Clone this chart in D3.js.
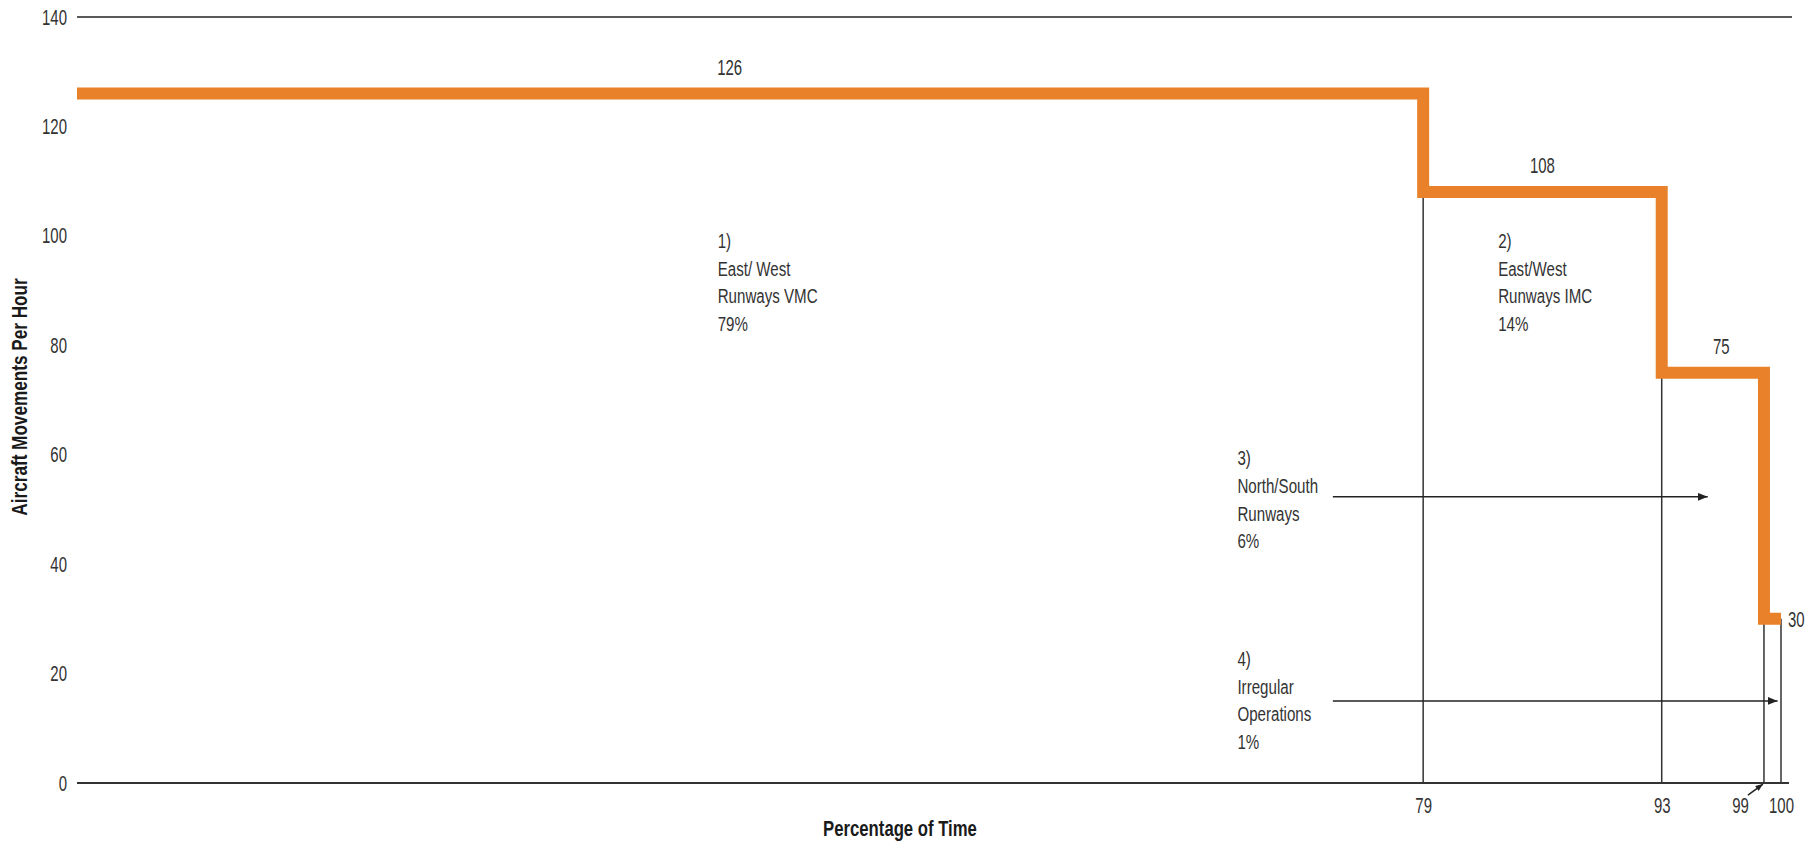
<!DOCTYPE html>
<html>
<head>
<meta charset="utf-8">
<script src="https://cdn.jsdelivr.net/npm/d3@7"></script>
<style>
  html, body { margin: 0; padding: 0; background: #fff; }
  text { font-family: "Liberation Sans", Arial, sans-serif; fill: #333; }
  .title { font-weight: bold; fill: #1a1a1a; }
</style>
</head>
<body>
<div id="chart"></div>
<script>
// Data
const yTicks = [0, 20, 40, 60, 80, 100, 120, 140];
const xTicks = [79, 93, 99, 100];
const stepStart = [0, 79, 93, 99, 100];     // percentage of time where each level starts
const stepLevel = [126, 108, 75, 30, 30];   // aircraft movements per hour
const levelText = ["126", "108", "75", "30"];
const regionText = [
  ["1)", "East/ West", "Runways VMC", "79%"],
  ["2)", "East/West", "Runways IMC", "14%"],
  ["3)", "North/South", "Runways", "6%"],
  ["4)", "Irregular", "Operations", "1%"]
];

const width = 1819, height = 844;
const margin = { top: 17, right: 38, bottom: 61, left: 77 };

const svg = d3.select("#chart").append("svg")
  .attr("width", width)
  .attr("height", height);

const x = d3.scaleLinear().domain([0, 100]).range([margin.left, width - margin.right]);
const y = d3.scaleLinear().domain([0, 140]).range([height - margin.bottom, margin.top]);

// arrow heads
const defs = svg.append("defs");
defs.append("marker")
  .attr("id", "head")
  .attr("markerUnits", "userSpaceOnUse")
  .attr("viewBox", "0 -4 10 8")
  .attr("refX", 10).attr("refY", 0)
  .attr("markerWidth", 10).attr("markerHeight", 8)
  .attr("orient", "auto")
  .append("path").attr("d", "M0,-4L10,0L0,4Z").attr("fill", "#222");
defs.append("marker")
  .attr("id", "headSmall")
  .attr("markerUnits", "userSpaceOnUse")
  .attr("viewBox", "0 -4 10 8")
  .attr("refX", 10).attr("refY", 0)
  .attr("markerWidth", 8).attr("markerHeight", 6)
  .attr("orient", "auto")
  .append("path").attr("d", "M0,-4L10,0L0,4Z").attr("fill", "#222");

// the original face is a condensed one, so squeeze text around its anchor
function narrow(sel, s) {
  sel.each(function () {
    const tx = +this.getAttribute("x") || 0;
    const ty = +this.getAttribute("y") || 0;
    this.setAttribute("x", 0);
    this.setAttribute("y", 0);
    const t = this.getAttribute("data-rot") ? " rotate(-90)" : "";
    this.setAttribute("transform", `translate(${tx},${ty})${t} scale(${s},1)`);
  });
}

// top line at 140 and baseline at 0
svg.append("line")
  .attr("x1", x(0)).attr("x2", x(100) + 11)
  .attr("y1", y(140)).attr("y2", y(140))
  .attr("stroke", "#222").attr("stroke-width", 1.5);
svg.append("line")
  .attr("x1", x(0)).attr("x2", x(100) + 8)
  .attr("y1", y(0)).attr("y2", y(0))
  .attr("stroke", "#333").attr("stroke-width", 2);

// y axis labels
const yAxis = svg.append("g")
  .attr("transform", `translate(${margin.left},0)`)
  .call(d3.axisLeft(y).tickValues(yTicks).tickSize(0).tickPadding(10));
yAxis.select(".domain").remove();
yAxis.attr("font-family", null);
yAxis.selectAll("text")
  .attr("font-size", 22)
  .attr("fill", "#333")
  .call(narrow, 0.68);

// x axis labels
const xAxis = svg.append("g")
  .attr("transform", `translate(0,${y(0)})`)
  .call(d3.axisBottom(x).tickValues(xTicks).tickSize(0).tickPadding(14));
xAxis.select(".domain").remove();
xAxis.attr("font-family", null);
xAxis.selectAll("text")
  .attr("font-size", 22)
  .attr("fill", "#333")
  .attr("x", d => d === 99 ? -24 : 0)
  .call(narrow, 0.68);

// thin drop lines from each step down to the axis
svg.append("g")
  .selectAll("line")
  .data(stepStart.slice(1))
  .join("line")
  .attr("x1", d => x(d)).attr("x2", d => x(d))
  .attr("y1", (d, i) => y(stepLevel[i + 1]))
  .attr("y2", y(0))
  .attr("stroke", "#333").attr("stroke-width", 1.5);

// the orange step line
const line = d3.line()
  .x((d, i) => x(stepStart[i]))
  .y(d => y(d))
  .curve(d3.curveStepAfter);
svg.append("path")
  .attr("d", line(stepLevel))
  .attr("fill", "none")
  .attr("stroke", "#e8812a")
  .attr("stroke-width", 12)
  .attr("stroke-linejoin", "miter")
  .attr("stroke-linecap", "butt");

// level values above each step
const levelX = [38.3, 86, 96.5];
svg.append("g")
  .selectAll("text")
  .data(levelText.slice(0, 3))
  .join("text")
  .attr("x", (d, i) => x(levelX[i]))
  .attr("y", (d, i) => y(stepLevel[i]) - 19)
  .attr("text-anchor", "middle")
  .attr("font-size", 22)
  .text(d => d)
  .call(narrow, 0.68);
svg.append("text")
  .attr("x", x(100) + 7)
  .attr("y", y(30) + 8)
  .attr("font-size", 22)
  .text(levelText[3])
  .call(narrow, 0.68);

// region notes
const notePos = [[37.6, 97.8], [83.4, 97.8], [68.1, 58.1], [68.1, 21.4]];
regionText.forEach((lines, k) => {
  svg.append("g")
    .selectAll("text")
    .data(lines)
    .join("text")
    .attr("x", x(notePos[k][0]))
    .attr("y", (d, i) => y(notePos[k][1]) + i * 27.7)
    .attr("font-size", 21)
    .text(d => d)
    .call(narrow, 0.72);
});

// arrows pointing at the short segments
const arrows = [
  { from: [73.7, 52.3], to: [95.7, 52.3], head: "head" },
  { from: [73.7, 15], to: [99.8, 15], head: "head" },
  { from: [98.06, -2.2], to: [98.94, -0.2], head: "headSmall" }
];
svg.append("g")
  .selectAll("line")
  .data(arrows)
  .join("line")
  .attr("x1", d => x(d.from[0])).attr("y1", d => y(d.from[1]))
  .attr("x2", d => x(d.to[0])).attr("y2", d => y(d.to[1]))
  .attr("stroke", "#222").attr("stroke-width", 1.5)
  .attr("marker-end", d => `url(#${d.head})`);

// axis titles
svg.append("text")
  .attr("class", "title")
  .attr("x", 900)
  .attr("y", 836)
  .attr("text-anchor", "middle")
  .attr("font-size", 22)
  .text("Percentage of Time")
  .call(narrow, 0.76);
svg.append("text")
  .attr("class", "title")
  .attr("data-rot", 1)
  .attr("x", 27)
  .attr("y", (y(0) + y(140)) / 2 - 3)
  .attr("text-anchor", "middle")
  .attr("font-size", 22)
  .text("Aircraft Movements Per Hour")
  .call(narrow, 0.78);
</script>
</body>
</html>
